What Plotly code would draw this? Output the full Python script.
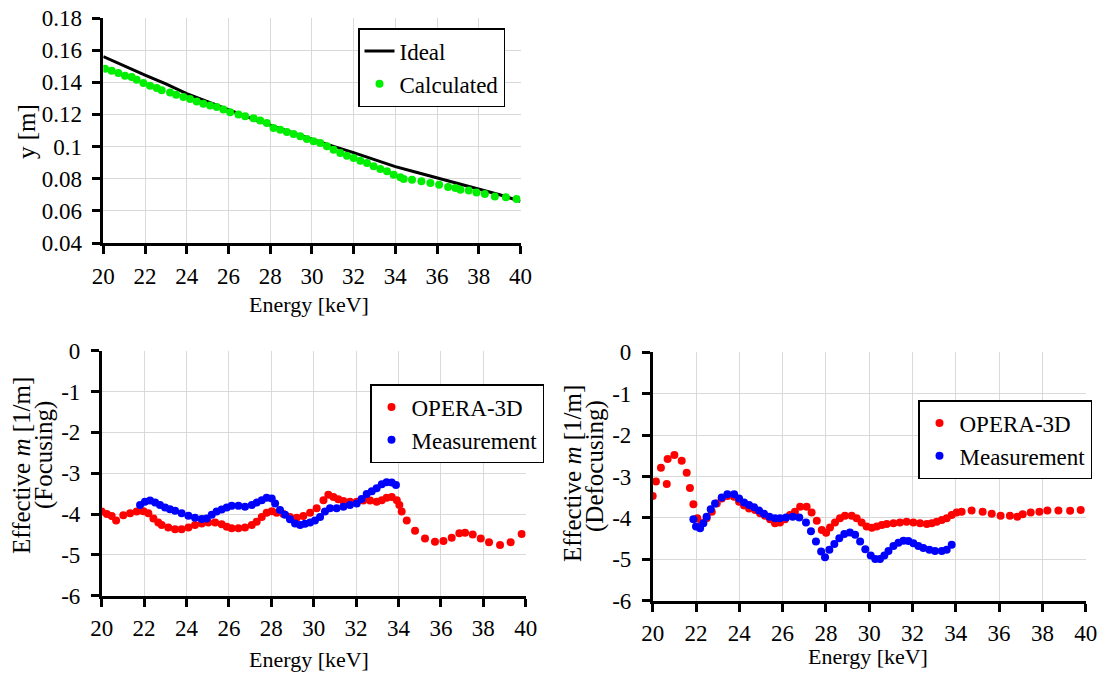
import plotly.graph_objects as go

# ---------------- data ----------------
ideal_energy = [20, 21, 22, 23, 24, 25, 26, 27, 28, 29, 30, 31, 32, 33, 34, 35, 36, 37, 38, 39, 40]
ideal_y = [0.156, 0.150, 0.1445, 0.139, 0.133, 0.128, 0.1228, 0.118, 0.1134, 0.109, 0.1045,
           0.1003, 0.0962, 0.0918, 0.0875, 0.084, 0.0806, 0.077, 0.0734, 0.070, 0.066]

calc_energy = [20.08, 20.4, 20.72, 21.04, 21.36, 21.6, 21.92, 22.24, 22.56, 22.8, 23.2, 23.49, 23.84,
               24.16, 24.48, 24.8, 25.12, 25.44, 25.76, 26.08, 26.48, 26.8, 27.2, 27.52, 27.84, 28.16,
               28.48, 28.8, 29.12, 29.44, 29.76, 30.08, 30.4, 30.72, 31.04, 31.36, 31.68, 32.0, 32.32,
               32.64, 32.96, 33.28, 33.6, 33.92, 34.24, 34.4, 34.8, 35.25, 35.68, 36.1, 36.53, 36.88,
               37.12, 37.52, 37.89, 38.29, 38.77, 39.3, 39.81]
calc_y = [0.1485, 0.1472, 0.1458, 0.1441, 0.1433, 0.1416, 0.1396, 0.1379, 0.1364, 0.1350, 0.1337,
          0.1323, 0.1308, 0.1296, 0.1281, 0.1267, 0.1255, 0.1246, 0.1230, 0.1213, 0.1199, 0.1188,
          0.1176, 0.1163, 0.1147, 0.1116, 0.1105, 0.1091, 0.1078, 0.1064, 0.1047, 0.1033, 0.1022,
          0.1002, 0.0981, 0.0960, 0.0943, 0.0929, 0.0912, 0.0898, 0.0877, 0.0860, 0.0846, 0.0825,
          0.0809, 0.0798, 0.0794, 0.0784, 0.0773, 0.0763, 0.0748, 0.0742, 0.0732, 0.0726, 0.0715,
          0.0705, 0.0690, 0.0684, 0.0674]

foc_opera_energy = [20.0, 20.24, 20.47, 20.68, 21.02, 21.34, 21.65, 21.97, 22.2, 22.44, 22.67, 22.83,
                    23.14, 23.46, 23.77, 24.09, 24.4, 24.72, 25.03, 25.35, 25.66, 25.9, 26.13, 26.45,
                    26.76, 27.08, 27.31, 27.55, 27.78, 28.02, 28.25, 28.57, 28.88, 29.2, 29.51, 29.83,
                    30.14, 30.46, 30.69, 30.93, 31.16, 31.4, 31.71, 32.03, 32.34, 32.66, 32.97, 33.21,
                    33.44, 33.68, 33.92, 34.04, 34.15, 34.39, 34.78, 35.25, 35.72, 36.12, 36.51, 36.87,
                    37.14, 37.5, 37.88, 38.27, 38.79, 39.29, 39.81]
foc_opera_m = [-3.94, -4.0, -4.05, -4.16, -4.03, -3.98, -3.94, -3.93, -3.98, -4.11, -4.21, -4.27,
               -4.33, -4.37, -4.37, -4.33, -4.27, -4.23, -4.21, -4.21, -4.25, -4.31, -4.35, -4.35,
               -4.33, -4.27, -4.19, -4.07, -3.97, -3.93, -3.97, -4.0, -4.07, -4.09, -4.05, -3.97,
               -3.86, -3.66, -3.53, -3.58, -3.64, -3.68, -3.70, -3.70, -3.67, -3.67, -3.70, -3.66,
               -3.60, -3.58, -3.66, -3.78, -3.94, -4.16, -4.41, -4.60, -4.68, -4.66, -4.58, -4.47,
               -4.46, -4.50, -4.60, -4.69, -4.76, -4.69, -4.49]

foc_meas_energy = [21.81, 22.04, 22.28, 22.52, 22.75, 22.99, 23.22, 23.46, 23.77, 24.09, 24.4, 24.72,
                   24.95, 25.19, 25.42, 25.66, 25.9, 26.13, 26.45, 26.76, 27.08, 27.31, 27.55, 27.78,
                   28.02, 28.18, 28.41, 28.65, 28.88, 29.12, 29.36, 29.59, 29.83, 30.06, 30.3, 30.53,
                   30.77, 31.08, 31.4, 31.71, 32.03, 32.26, 32.5, 32.74, 32.97, 33.21, 33.44, 33.68, 33.88]
foc_meas_m = [-3.78, -3.70, -3.67, -3.72, -3.78, -3.84, -3.88, -3.92, -3.98, -4.04, -4.09, -4.12,
              -4.11, -4.02, -3.94, -3.89, -3.84, -3.80, -3.80, -3.82, -3.78, -3.72, -3.66, -3.60,
              -3.62, -3.74, -3.90, -4.02, -4.13, -4.23, -4.27, -4.24, -4.21, -4.16, -4.07, -3.94,
              -3.86, -3.86, -3.82, -3.78, -3.74, -3.63, -3.51, -3.44, -3.37, -3.27, -3.22, -3.23, -3.29]

def_opera_energy = [20.0, 20.15, 20.38, 20.65, 20.69, 21.0, 21.34, 21.57, 21.72, 21.88, 22.06, 22.26,
                    22.49, 22.73, 22.96, 23.19, 23.45, 23.76, 23.99, 24.22, 24.45, 24.73, 24.96, 25.19,
                    25.42, 25.65, 25.88, 26.11, 26.34, 26.57, 26.81, 27.11, 27.34, 27.58, 27.81, 28.01,
                    28.19, 28.42, 28.65, 28.88, 29.19, 29.42, 29.65, 29.88, 30.12, 30.35, 30.58, 30.81,
                    31.12, 31.42, 31.73, 32.04, 32.35, 32.66, 32.89, 33.12, 33.35, 33.58, 33.81, 34.04,
                    34.27, 34.73, 35.24, 35.66, 36.07, 36.5, 36.84, 37.09, 37.46, 37.86, 38.23, 38.74,
                    39.28, 39.77]
def_opera_m = [-3.47, -3.12, -2.79, -3.18, -2.58, -2.48, -2.62, -2.91, -3.28, -3.67, -4.01, -4.13,
               -4.01, -3.85, -3.65, -3.53, -3.47, -3.49, -3.61, -3.70, -3.77, -3.81, -3.89, -3.95,
               -4.03, -4.13, -4.11, -4.03, -3.93, -3.85, -3.73, -3.73, -3.87, -4.07, -4.29, -4.36,
               -4.23, -4.11, -4.01, -3.95, -3.95, -4.01, -4.11, -4.21, -4.24, -4.21, -4.17, -4.15,
               -4.13, -4.11, -4.09, -4.11, -4.13, -4.15, -4.13, -4.09, -4.05, -4.01, -3.93, -3.87,
               -3.85, -3.82, -3.85, -3.90, -3.95, -3.95, -3.97, -3.91, -3.87, -3.85, -3.82, -3.82,
               -3.83, -3.81]

def_meas_energy = [21.88, 22.0, 22.19, 22.34, 22.49, 22.68, 22.88, 23.19, 23.45, 23.76, 23.99, 24.22,
                   24.45, 24.68, 24.91, 25.14, 25.39, 25.65, 25.88, 26.16, 26.47, 26.77, 27.08, 27.31,
                   27.54, 27.78, 27.96, 28.16, 28.39, 28.62, 28.85, 29.11, 29.35, 29.58, 29.82, 30.07,
                   30.28, 30.5, 30.7, 30.89, 31.12, 31.35, 31.58, 31.81, 32.04, 32.27, 32.5, 32.78,
                   33.04, 33.35, 33.58, 33.81]
def_meas_m = [-4.03, -4.21, -4.25, -4.13, -3.97, -3.79, -3.65, -3.51, -3.43, -3.43, -3.53, -3.63,
              -3.69, -3.74, -3.82, -3.90, -3.97, -4.01, -4.01, -3.99, -3.97, -3.99, -4.11, -4.32,
              -4.57, -4.81, -4.95, -4.77, -4.63, -4.49, -4.39, -4.35, -4.41, -4.57, -4.76, -4.91,
              -4.99, -4.99, -4.91, -4.80, -4.68, -4.60, -4.55, -4.56, -4.61, -4.68, -4.73, -4.77,
              -4.80, -4.80, -4.77, -4.65]

energy_ticks = [20, 22, 24, 26, 28, 30, 32, 34, 36, 38, 40]
energy_tick_labels = ["20", "22", "24", "26", "28", "30", "32", "34", "36", "38", "40"]
y_ticks = [0.04, 0.06, 0.08, 0.10, 0.12, 0.14, 0.16, 0.18]
y_tick_labels = ["0.04", "0.06", "0.08", "0.1", "0.12", "0.14", "0.16", "0.18"]
m_ticks = [0, -1, -2, -3, -4, -5, -6]
m_tick_labels = ["0", "-1", "-2", "-3", "-4", "-5", "-6"]

# ---------------- figure ----------------
FONT = "Liberation Serif"
W, H = 1104, 679
NBSP = "\u00a0"  # small gap between y tick labels and the axis

fig = go.Figure()
fig.add_trace(go.Scatter(x=ideal_energy, y=ideal_y, mode="lines", name="Ideal",
                         line=dict(color="black", width=3), xaxis="x", yaxis="y", legend="legend"))
fig.add_trace(go.Scatter(x=calc_energy, y=calc_y, mode="markers", name="Calculated",
                         marker=dict(color="#00ee00", size=8), xaxis="x", yaxis="y", legend="legend"))
fig.add_trace(go.Scatter(x=foc_opera_energy, y=foc_opera_m, mode="markers", name="OPERA-3D",
                         marker=dict(color="#ff0000", size=8), xaxis="x2", yaxis="y2", legend="legend2"))
fig.add_trace(go.Scatter(x=foc_meas_energy, y=foc_meas_m, mode="markers", name="Measurement",
                         marker=dict(color="#0000ff", size=8), xaxis="x2", yaxis="y2", legend="legend2"))
fig.add_trace(go.Scatter(x=def_opera_energy, y=def_opera_m, mode="markers", name="OPERA-3D",
                         marker=dict(color="#ff0000", size=8), xaxis="x3", yaxis="y3", legend="legend3"))
fig.add_trace(go.Scatter(x=def_meas_energy, y=def_meas_m, mode="markers", name="Measurement",
                         marker=dict(color="#0000ff", size=8), xaxis="x3", yaxis="y3", legend="legend3"))


def px_x(p):
    return p / W


def px_y(p):
    return 1 - p / H


tickfont = dict(family=FONT, size=23, color="black")
TL = 8
common = dict(showline=True, linecolor="black", linewidth=3, ticks="outside", ticklen=TL,
              tickwidth=3, tickcolor="black", showgrid=True, gridcolor="#d9d9d9", gridwidth=1.2,
              zeroline=False, tickfont=tickfont, tickmode="array", automargin=False)

panels = {
    1: dict(xd=[px_x(103.3), px_x(520.5)], yd=[px_y(243), px_y(18)], yr=[0.04, 0.18],
            yt=y_ticks, ytl=y_tick_labels),
    2: dict(xd=[px_x(101.7), px_x(525.7)], yd=[px_y(595.7), px_y(350.7)], yr=[-6, 0],
            yt=m_ticks, ytl=m_tick_labels),
    3: dict(xd=[px_x(652.7), px_x(1085.7)], yd=[px_y(600.7), px_y(352.3)], yr=[-6, 0],
            yt=m_ticks, ytl=m_tick_labels),
}

layout_axes = {}
for i, p in panels.items():
    sx = "" if i == 1 else str(i)
    layout_axes["xaxis" + sx] = dict(common, domain=p["xd"], anchor="y" + sx, range=[20, 40],
                                     tickvals=energy_ticks, ticktext=energy_tick_labels,
                                     ticklabelstandoff=2)
    layout_axes["yaxis" + sx] = dict(common, domain=p["yd"], anchor="x" + sx, range=p["yr"],
                                     tickvals=p["yt"], ticktext=[t + NBSP for t in p["ytl"]])
    # overlay axes to draw the inner half of the crossing tick marks
    j = i + 3
    layout_axes["xaxis" + str(j)] = dict(overlaying="x" + sx, anchor="y" + sx, range=[20, 40],
                                         side="bottom",
                                         tickmode="array", tickvals=energy_ticks, ticks="inside",
                                         ticklen=TL, tickwidth=3, tickcolor="black",
                                         showticklabels=False, showgrid=False, showline=False,
                                         zeroline=False)
    layout_axes["yaxis" + str(j)] = dict(overlaying="y" + sx, anchor="x" + sx, range=p["yr"],
                                         side="left",
                                         tickmode="array", tickvals=p["yt"], ticks="inside",
                                         ticklen=TL, tickwidth=3, tickcolor="black",
                                         showticklabels=False, showgrid=False, showline=False,
                                         zeroline=False)

legend_common = dict(font=dict(family=FONT, size=23, color="black"), bgcolor="white",
                     bordercolor="black", borderwidth=1.5, xanchor="left", yanchor="top",
                     itemwidth=30, tracegroupgap=0)

title_font = dict(family=FONT, size=22, color="black")
rot_font = dict(family=FONT, size=25, color="black")
annotations = [
    dict(text="Energy [keV]", x=px_x(309), y=px_y(304), font=title_font),
    dict(text="Energy [keV]", x=px_x(309), y=px_y(659), font=title_font),
    dict(text="Energy [keV]", x=px_x(868), y=px_y(656), font=title_font),
    dict(text="y [m]", x=px_x(27), y=px_y(132), font=rot_font, textangle=-90),
    dict(text="Effective <i>m</i> [1/m]", x=px_x(21), y=px_y(466), font=rot_font, textangle=-90),
    dict(text="(Focusing)", x=px_x(44), y=px_y(455), font=rot_font, textangle=-90),
    dict(text="Effective <i>m</i> [1/m]", x=px_x(572), y=px_y(474), font=rot_font, textangle=-90),
    dict(text="(Defocusing)", x=px_x(595), y=px_y(466), font=rot_font, textangle=-90),
]
for a in annotations:
    a.update(xref="paper", yref="paper", showarrow=False, xanchor="center", yanchor="middle")

fig.update_layout(
    width=W, height=H,
    margin=dict(l=0, r=0, t=0, b=0, pad=0, autoexpand=False),
    paper_bgcolor="white", plot_bgcolor="white",
    font=dict(family=FONT, size=23, color="black"),
    showlegend=True,
    legend=dict(legend_common, x=px_x(358), y=px_y(28)),
    legend2=dict(legend_common, x=px_x(370), y=px_y(384)),
    legend3=dict(legend_common, x=px_x(918), y=px_y(400)),
    annotations=annotations,
    **layout_axes,
)

fig.write_html("out.html", config={"displayModeBar": False},
               post_script="document.body.style.margin='0';document.body.style.padding='0';"
                           "document.body.style.overflow='hidden';")
